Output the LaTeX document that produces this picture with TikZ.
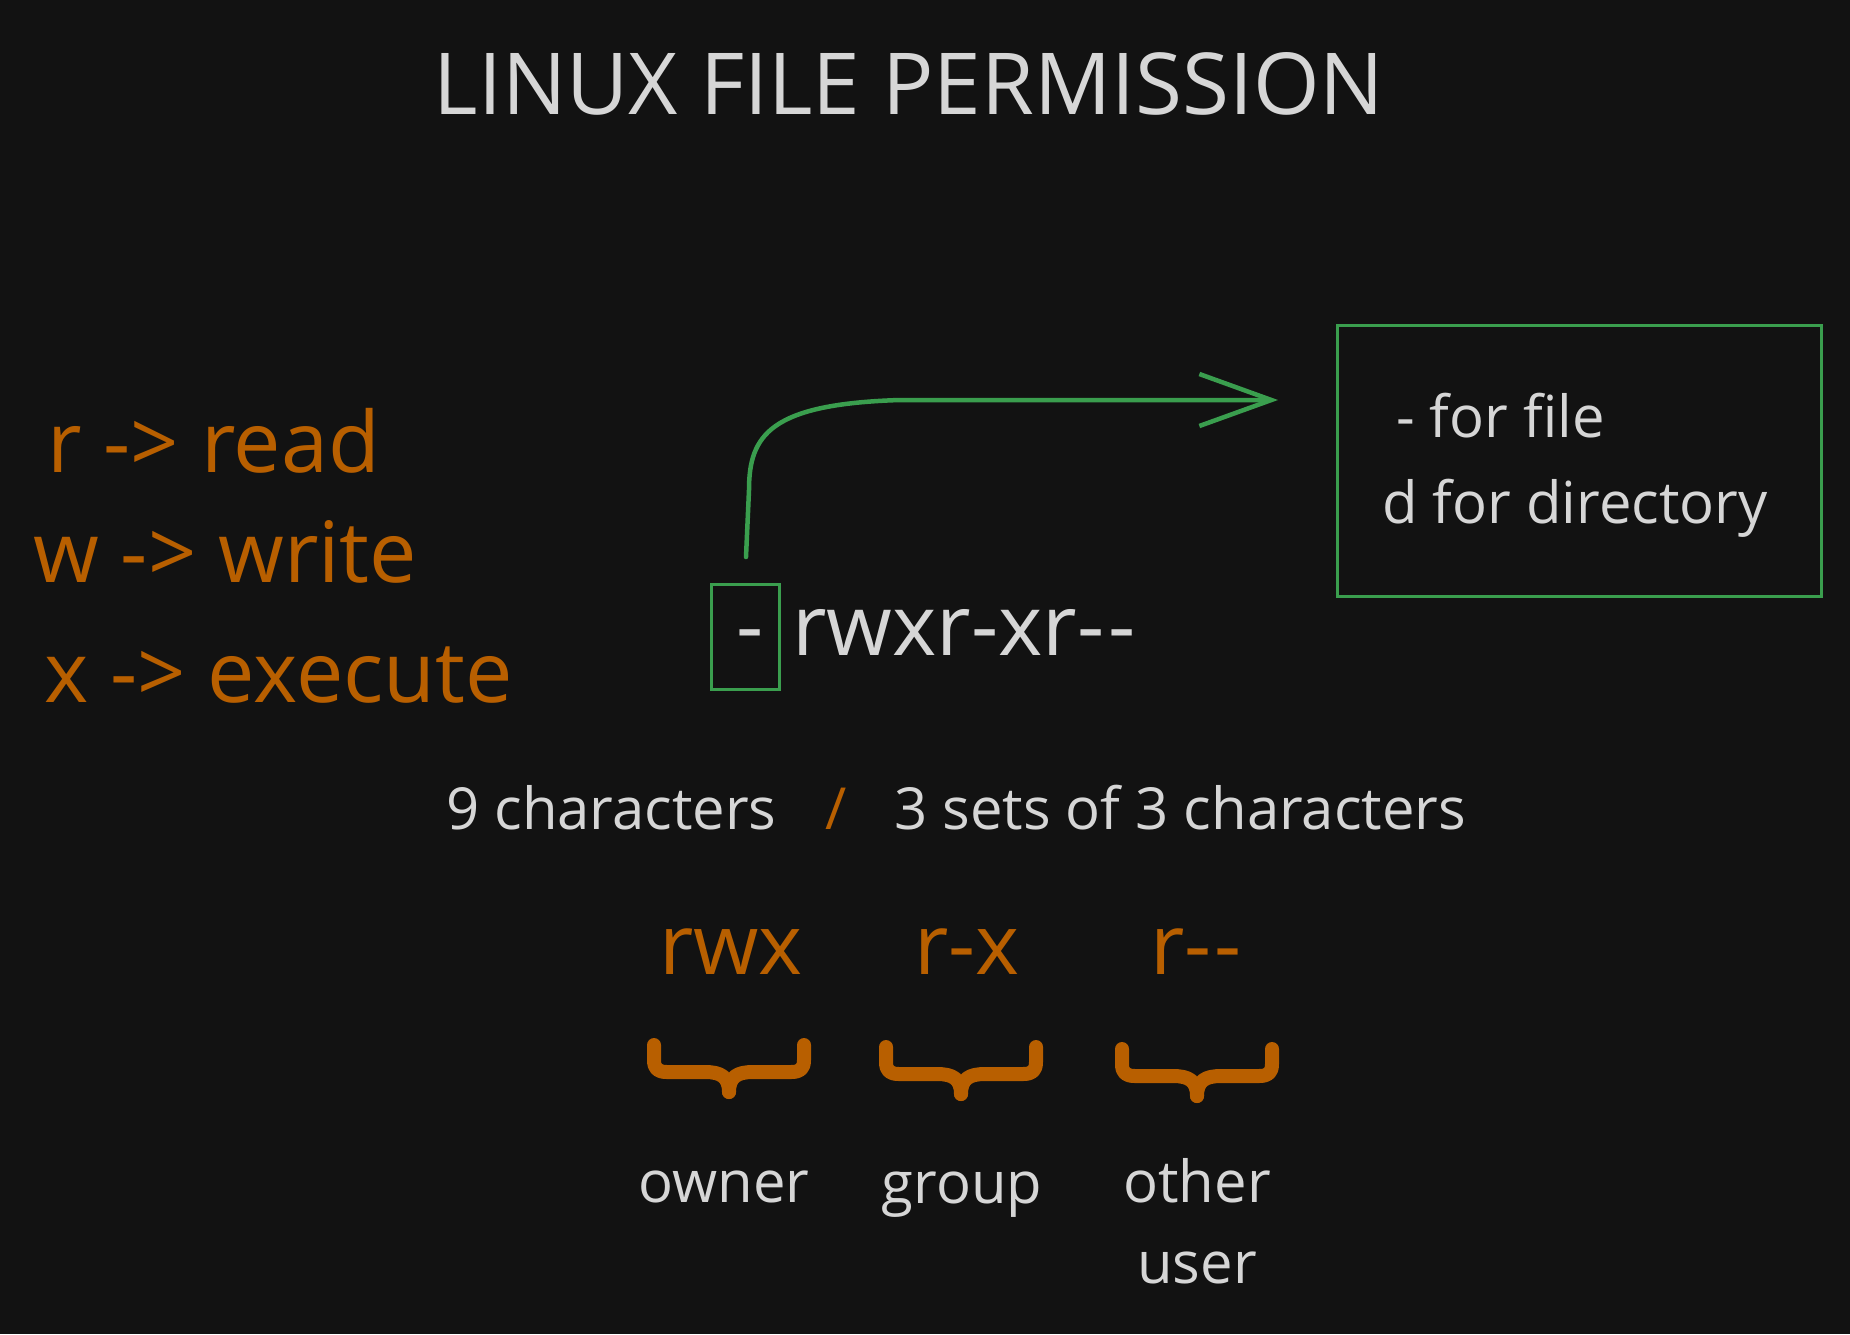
\documentclass[tikz,border=0pt]{standalone}
\usepackage{fontspec}
\setmainfont{Open Sans}[Ligatures=TeXOff]
\usetikzlibrary{arrows.meta}

\definecolor{bgdark}{HTML}{121212}
\definecolor{chalk}{HTML}{D6D6D6}
\definecolor{rust}{HTML}{B85F00}
\definecolor{leaf}{HTML}{3A9E4E}

\begin{document}
\begin{tikzpicture}[x=1pt, y=-1pt, >={Straight Barb[length=72pt, width=52pt]}, every node/.style={inner sep=0pt, text=chalk}]
    \tikzstyle{headline}=[font=\fontsize{85.5}{100}\selectfont]
    \tikzstyle{bigtext}=[font=\fontsize{84.5}{100}\selectfont, text=rust]
    \tikzstyle{grouptext}=[font=\fontsize{84}{100}\selectfont, text=rust]
    \tikzstyle{midtext}=[font=\fontsize{58}{70}\selectfont]
    \tikzstyle{frame}=[draw=leaf, line width=3pt]
    \tikzstyle{brace}=[draw=rust, line width=14pt, line cap=round, line join=round]

    \path[use as bounding box, fill=bgdark] (0,0) rectangle (1850,1334);

    \node[headline, anchor=base] (title) at (909,114) {LINUX FILE PERMISSION};

    % legend on the left
    \node[bigtext, anchor=base west] (read) at (47,472) {r -> read};
    \node[bigtext, anchor=base west] (write) at (33,582) {w -> write};
    \node[bigtext, anchor=base west] (exec) at (44,702) {x -> execute};

    % the permission string
    \node[frame, minimum width=68pt, minimum height=105pt] (dashbox) at (745,636.5) {};
    \node[bigtext, text=chalk, anchor=base] (dash) at (750,655) {-};
    \node[bigtext, text=chalk, anchor=base west] (perms) at (792,655) {rwxr-xr-{}\kern4pt-};

    \node[frame, minimum width=484pt, minimum height=271pt] (infobox) at (1579,460.5) {};
    \node[midtext, anchor=base west] (forfile) at (1396,437) {- for file};
    \node[midtext, anchor=base west] (fordir) at (1382,523) {d for directory};

    \coordinate (arrowstart) at (746,557);
    \coordinate (arrowtip) at (1278,400);
    \draw[->, leaf, line width=4.5pt, line cap=round] (arrowstart) -- (749,490) .. controls (749,435) and (770,404) .. (900,400) -- (arrowtip);

    \node[midtext, anchor=base west] (ninechars) at (446,829) {9 characters};
    \node[midtext, text=rust, anchor=base] (slash) at (836,829) {/};
    \node[midtext, anchor=base west] (threesets) at (894,829) {3 sets of 3 characters};

    % the three groups
    \node[grouptext, anchor=base] (rwx) at (731,974) {rwx};
    \node[grouptext, anchor=base] (rx) at (967,974) {r-x};
    \node[grouptext, anchor=base] (rr) at (1196,974) {r-{}\kern3pt-};

    \foreach \cx/\ty in {729/1045, 961/1047, 1197/1049} {
        \draw[brace] (\cx-75,\ty) -- (\cx-75,\ty+15) .. controls (\cx-75,\ty+24) and (\cx-71,\ty+27) .. (\cx-62,\ty+27)
            -- (\cx-24,\ty+27) .. controls (\cx-8,\ty+27) and (\cx,\ty+32) .. (\cx,\ty+47);
        \draw[brace] (\cx+75,\ty) -- (\cx+75,\ty+15) .. controls (\cx+75,\ty+24) and (\cx+71,\ty+27) .. (\cx+62,\ty+27)
            -- (\cx+24,\ty+27) .. controls (\cx+8,\ty+27) and (\cx,\ty+32) .. (\cx,\ty+47);
    }

    \node[midtext, anchor=base] (owner) at (724,1202) {owner};
    \node[midtext, anchor=base] (group) at (962,1203) {group};
    \node[midtext, anchor=base] (other) at (1197,1202) {other};
    \node[midtext, anchor=base] (user) at (1197,1283) {user};
\end{tikzpicture}
\end{document}
